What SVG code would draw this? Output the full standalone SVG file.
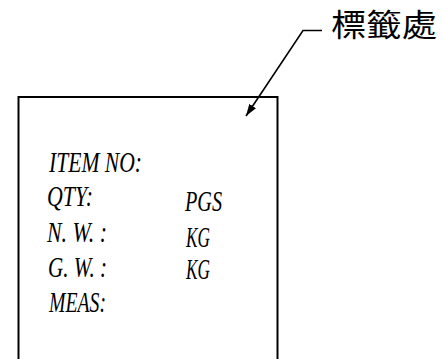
<svg xmlns="http://www.w3.org/2000/svg" width="443" height="359" viewBox="0 0 443 359">
<defs>
<style>
.lbl{font-family:"Liberation Serif","DejaVu Serif",serif;font-style:italic;font-size:29px;fill:#000}
.cjk{font-family:"Noto Sans CJK TC","Noto Sans CJK SC",sans-serif;font-size:31px;fill:#000}
.ln{fill:none;stroke:#000;stroke-width:2}
</style>
<marker id="ah" viewBox="0 0 12 8" refX="12" refY="4" markerWidth="12" markerHeight="8" markerUnits="userSpaceOnUse" orient="auto">
<path d="M0,0 L12,4 L0,8 Z" fill="#000"/>
</marker>
</defs>
<rect width="443" height="359" fill="#fff"/>
<g id="label-box">
<path class="ln" d="M18.5,370 V97 H277.5 V370"/>
<text class="lbl" x="49" y="172" textLength="93" lengthAdjust="spacingAndGlyphs">ITEM NO:</text>
<text class="lbl" x="47" y="206" textLength="46" lengthAdjust="spacingAndGlyphs">QTY:</text>
<text class="lbl" x="185" y="211" textLength="37" lengthAdjust="spacingAndGlyphs">PGS</text>
<text class="lbl" x="47" y="242" textLength="60" lengthAdjust="spacingAndGlyphs">N. W. :</text>
<text class="lbl" x="186" y="247" textLength="24" lengthAdjust="spacingAndGlyphs">KG</text>
<text class="lbl" x="48" y="277" textLength="59" lengthAdjust="spacingAndGlyphs">G. W. :</text>
<text class="lbl" x="186" y="279" textLength="24" lengthAdjust="spacingAndGlyphs">KG</text>
<text class="lbl" x="49" y="312" textLength="57" lengthAdjust="spacingAndGlyphs">MEAS:</text>
</g>
<g id="callout">
<text class="cjk" x="331" y="36" textLength="106" lengthAdjust="spacingAndGlyphs">標籤處</text>
</g>
<g id="connectors">
<path d="M322,30.5 H303 L246,116" fill="none" stroke="#000" stroke-width="1.6" marker-end="url(#ah)"/>
</g>
</svg>
